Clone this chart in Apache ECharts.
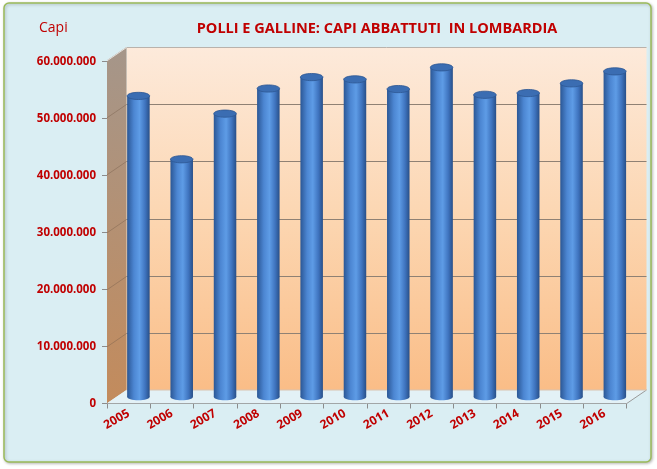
<!DOCTYPE html>
<html>
<head>
<meta charset="utf-8">
<script src="https://cdn.jsdelivr.net/npm/echarts@6/dist/echarts.min.js"></script>
<style>html,body{margin:0;padding:0;background:#ffffff;}#c{width:657px;height:469px;}</style>
</head>
<body>
<div id="c"></div>
<script>
// ---- data ----
var years = ['2005','2006','2007','2008','2009','2010','2011','2012','2013','2014','2015','2016'];
var capi = [52700000, 41600000, 49600000, 54000000, 56000000, 55600000, 53900000, 57700000, 52900000, 53200000, 54900000, 57000000];
var yTicks = [0, 10000000, 20000000, 30000000, 40000000, 50000000, 60000000];
var titleText = 'POLLI E GALLINE: CAPI ABBATTUTI  IN LOMBARDIA';
var yAxisName = 'Capi';

// ---- styling ----
var RED = '#c00000';
var FONT = "'Open Sans', 'Noto Sans', sans-serif";
var YMAX = 60000000, YINT = 10000000;
var DX = -19.5, DY = 13.3; // depth offset from back wall to front edge

function fmt(v) { return String(v).replace(/\B(?=(\d{3})+(?!\d))/g, '.'); }

var chart = echarts.init(document.getElementById('c'), null, {renderer: 'canvas'});

var bodyGrad = {type: 'linear', x: 0, y: 0, x2: 1, y2: 0, colorStops: [
  {offset: 0, color: '#2b5795'}, {offset: 0.3, color: '#4c86d2'}, {offset: 0.55, color: '#5e9ce6'},
  {offset: 0.8, color: '#3f74bf'}, {offset: 1, color: '#284f88'}]};

var option = {
  backgroundColor: '#ffffff',
  animation: false,
  graphic: [
    {type: 'rect', z: -10, shape: {x: 4, y: 3, width: 647, height: 459, r: 5},
     style: {fill: '#daeef3', stroke: '#9bbb59', lineWidth: 1.5, shadowBlur: 3, shadowColor: 'rgba(0,0,0,0.25)', shadowOffsetX: 1, shadowOffsetY: 1}},
    {type: 'text', left: 39, top: 21, style: {text: yAxisName, fill: RED, font: "14px " + FONT}}
  ],
  title: {
    text: titleText, left: 372, top: 16, textAlign: 'center',
    textStyle: {color: RED, fontWeight: 'bold', fontSize: 14.5, fontFamily: FONT}
  },
  grid: [
    {left: 126.5, right: 10.5, top: 47, height: 343},       // back wall
    {left: 107, right: 30.5, top: 61.5, height: 342},       // front edge (axes)
    {left: 116.75, right: 20.5, top: 54.25, height: 342.5}  // mid depth (bars)
  ],
  xAxis: [
    {type: 'category', data: years, gridIndex: 0, show: false},
    {type: 'category', data: years, gridIndex: 1,
     axisLine: {lineStyle: {color: '#8c8c8c', width: 1}},
     axisTick: {show: true, length: 5, lineStyle: {color: '#8c8c8c'}},
     axisLabel: {rotate: 30, margin: 9, color: RED, fontWeight: 'bold', fontSize: 12, fontFamily: FONT}},
    {type: 'category', data: years, gridIndex: 2, show: false}
  ],
  yAxis: [
    {type: 'value', gridIndex: 0, min: 0, max: YMAX, interval: YINT, show: false, splitLine: {show: false}},
    {type: 'value', gridIndex: 1, min: 0, max: YMAX, interval: YINT,
     axisLine: {show: true, lineStyle: {color: '#8c8c8c'}},
     axisTick: {show: true, length: 5, lineStyle: {color: '#8c8c8c'}},
     splitLine: {show: false},
     axisLabel: {margin: 11, color: RED, fontWeight: 'bold', fontSize: 11.5, fontFamily: FONT, formatter: fmt}},
    {type: 'value', gridIndex: 2, min: 0, max: YMAX, interval: YINT, show: false, splitLine: {show: false}}
  ],
  series: [
    {
      type: 'custom', xAxisIndex: 0, yAxisIndex: 0, z: 1, silent: true, clip: false,
      data: [[0, 0]],
      renderItem: function (params, api) {
        var cs = params.coordSys;
        var x0 = cs.x, y0 = cs.y, w = cs.width, h = cs.height, yb = y0 + h;
        var kids = [];
        // back wall
        kids.push({type: 'rect', shape: {x: x0, y: y0, width: w, height: h},
          style: {fill: {type: 'linear', x: 0, y: 0, x2: 0, y2: 1, colorStops: [
            {offset: 0, color: '#fdeadb'}, {offset: 0.5, color: '#fcd6b1'}, {offset: 1, color: '#fabd87'}]}}});
        // side wall
        kids.push({type: 'polygon', shape: {points: [[x0, y0], [x0, yb], [x0 + DX, yb + DY], [x0 + DX, y0 + DY]]},
          style: {fill: {type: 'linear', x: 0, y: 0, x2: 0, y2: 1, colorStops: [
            {offset: 0, color: '#a5968a'}, {offset: 1, color: '#c38b5c'}]}}});
        // gridlines on back and side walls
        yTicks.forEach(function (v) {
          if (v === 0) return;
          var yy = Math.round(api.coord([0, v])[1]) + 0.5;
          var col = (v === YMAX) ? '#b9b2ab' : '#8f8174';
          kids.push({type: 'line', shape: {x1: x0, y1: yy, x2: x0 + w, y2: yy}, style: {stroke: col, lineWidth: 1}});
          kids.push({type: 'line', shape: {x1: x0 + DX, y1: yy + DY, x2: x0, y2: yy},
            style: {stroke: v === YMAX ? '#e6e2de' : 'rgba(120,95,75,0.45)', lineWidth: 1}});
        });
        // floor
        kids.push({type: 'polygon', shape: {points: [[x0, yb], [x0 + w, yb], [x0 + w + DX, yb + DY], [x0 + DX, yb + DY]]},
          style: {fill: '#e3f1f6'}});
        kids.push({type: 'line', shape: {x1: x0 + w, y1: yb, x2: x0 + w + DX, y2: yb + DY}, style: {stroke: '#9a9a9a', lineWidth: 1}});
        kids.push({type: 'line', shape: {x1: x0, y1: yb, x2: x0 + w, y2: yb}, style: {stroke: '#d9c3b0', lineWidth: 1}});
        return {type: 'group', children: kids};
      }
    },
    {
      type: 'custom', xAxisIndex: 2, yAxisIndex: 2, z: 3, clip: false,
      data: capi.map(function (v, i) { return [i, v]; }),
      renderItem: function (params, api) {
        var top = api.coord([api.value(0), api.value(1)]);
        var base = api.coord([api.value(0), 0]);
        var bw = api.size([1, 0])[0] * 0.52;
        var rx = bw / 2, ry = 3.6, cx = top[0];
        return {type: 'group', children: [
          {type: 'ellipse', shape: {cx: cx, cy: base[1], rx: rx, ry: ry}, style: {fill: bodyGrad}},
          {type: 'rect', shape: {x: cx - rx, y: top[1], width: bw, height: base[1] - top[1]}, style: {fill: bodyGrad}},
          {type: 'ellipse', shape: {cx: cx, cy: top[1], rx: rx, ry: ry},
           style: {fill: '#3b6db2', stroke: '#2d5792', lineWidth: 0.8}}
        ]};
      }
    }
  ]
};
chart.setOption(option);
</script>
</body>
</html>
